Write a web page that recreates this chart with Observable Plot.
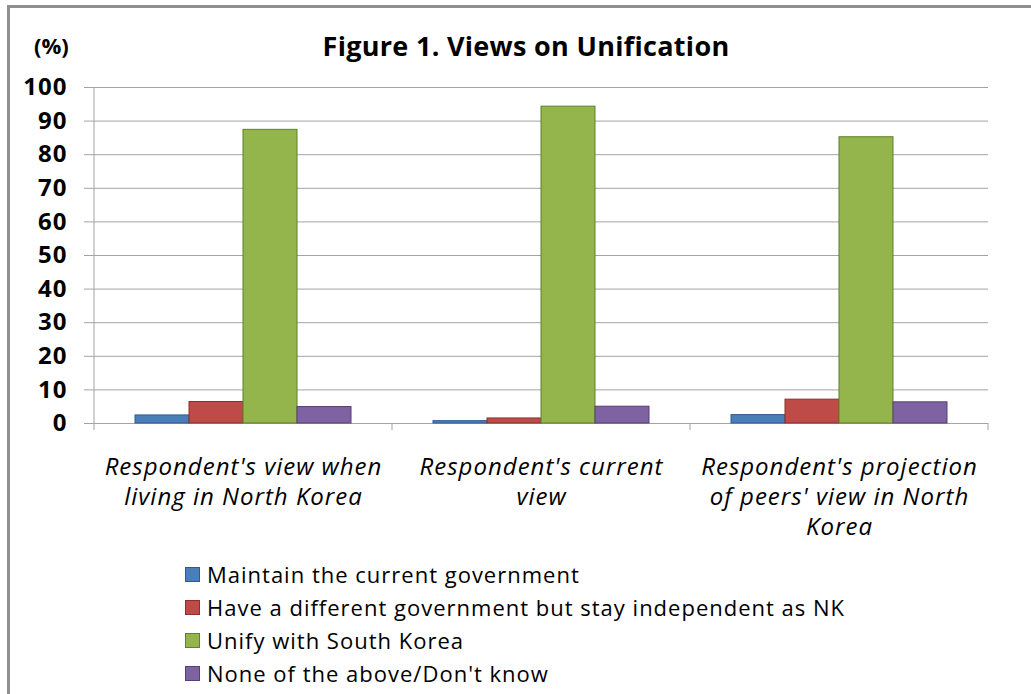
<!DOCTYPE html>
<html>
<head>
<meta charset="utf-8">
<script src="https://cdn.jsdelivr.net/npm/d3@7"></script>
<script src="https://cdn.jsdelivr.net/npm/@observablehq/plot@0.6"></script>
<style>
  html, body { margin: 0; padding: 0; background: #fff; }
  #wrap { position: relative; width: 1031px; height: 694px; overflow: hidden; font-family: "Open Sans", sans-serif; }
  #frame { position: absolute; left: 7px; top: 5px; width: 1040px; height: 700px; border-left: 3px solid #8f8f8f; border-top: 3px solid #8f8f8f; }
  #unit { position: absolute; left: 34px; top: 30px; font-size: 22px; font-weight: bold; color: #000; }
  #title { position: absolute; left: 0; width: 1052px; text-align: center; top: 27px; font-size: 27px; font-weight: bold; letter-spacing: 0.3px; color: #000; }
  #chart { position: absolute; left: 0; top: 70px; }
  #legend { position: absolute; left: 185px; top: 558px; font-size: 22px; letter-spacing: 1px; color: #000; }
  .row { height: 33px; line-height: 33px; display: flex; align-items: center; white-space: nowrap; }
  .sw { width: 15px; height: 15px; margin-right: 7px; box-sizing: border-box; }
</style>
</head>
<body>
<div id="wrap">
  <div id="frame"></div>
  <div id="unit">(%)</div>
  <div id="title">Figure 1. Views on Unification</div>
  <div id="chart"></div>
  <div id="legend"></div>
</div>
<script>
const categories = [
  "Respondent's view when\nliving in North Korea",
  "Respondent's current\nview",
  "Respondent's projection\nof peers' view in North\nKorea"
];
const series = [
  "Maintain the current government",
  "Have a different government but stay independent as NK",
  "Unify with South Korea",
  "None of the above/Don't know"
];
const maintainCurrent = [2.4, 0.7, 2.5];
const differentGov = [6.4, 1.5, 7.1];
const unifySouth = [87.4, 94.3, 85.2];
const noneDontKnow = [4.9, 5.0, 6.3];
const colors = ["#4a7ebb", "#be4b48", "#93b54b", "#7e62a1"];
const strokes = ["#2f5a8f", "#8c2f2d", "#61802c", "#563f78"];
const yTicks = [0, 10, 20, 30, 40, 50, 60, 70, 80, 90, 100];

const seriesValues = [maintainCurrent, differentGov, unifySouth, noneDontKnow];
const data = categories.flatMap((c, i) =>
  series.map((s, j) => ({category: c, series: s, value: seriesValues[j][i]}))
);

const plot = Plot.plot({
  width: 1031,
  height: 480,
  marginLeft: 93,
  marginRight: 42,
  marginTop: 17,
  marginBottom: 127,
  style: {fontFamily: "'Open Sans', sans-serif", background: "transparent", color: "#000"},
  fx: {domain: categories, padding: 0, label: null},
  x: {domain: series, axis: null, paddingInner: 0, paddingOuter: 0.728},
  y: {domain: [0, 100], label: null},
  color: {domain: series, range: colors},
  marks: [
    Plot.gridY(yTicks, {stroke: "#a3a3a3", strokeOpacity: 1}),
    Plot.ruleY([0], {stroke: "#a3a3a3"}),
    Plot.barY(data, {
      fx: "category", x: "series", y: "value",
      fill: "series",
      stroke: d => strokes[series.indexOf(d.series)],
      strokeWidth: 1
    }),
    Plot.axisY(yTicks, {
      tickSize: 10, tickPadding: 17, fontSize: 24, fontWeight: "bold",
      stroke: "#a3a3a3", fill: "#000", label: null
    }),
    Plot.axisFx({
      anchor: "bottom",
      tickSize: 0, tickPadding: 30, fontSize: 24, fontStyle: "italic",
      lineHeight: 1.25, fill: "#000", label: null
    })
  ]
});
document.getElementById("chart").appendChild(plot);
d3.select(plot).selectAll("[aria-label='fx-axis tick label'] text").style("letter-spacing", "1px");
d3.select(plot).selectAll("[aria-label='y-axis tick label'] text").style("letter-spacing", "1px");

// y-axis line and category boundary ticks derived from the plot's scales
const fx = plot.scale("fx");
const ys = plot.scale("y");
const svg = d3.select(plot);
const y0 = ys.apply(0), y100 = ys.apply(100);
const starts = categories.map(c => fx.apply(c));
const bw = fx.bandwidth;
const bounds = [...starts, starts[starts.length - 1] + bw];
svg.append("line")
  .attr("x1", bounds[0]).attr("x2", bounds[0])
  .attr("y1", y100).attr("y2", y0 + 7)
  .attr("stroke", "#a3a3a3");
svg.selectAll("line.bnd").data(bounds.slice(1)).join("line")
  .attr("class", "bnd")
  .attr("x1", d => d).attr("x2", d => d)
  .attr("y1", y0).attr("y2", y0 + 7)
  .attr("stroke", "#a3a3a3");

const legend = document.getElementById("legend");
series.forEach((s, i) => {
  const row = document.createElement("div");
  row.className = "row";
  const sw = document.createElement("span");
  sw.className = "sw";
  sw.style.background = colors[i];
  sw.style.border = "1px solid " + strokes[i];
  const t = document.createElement("span");
  t.textContent = s;
  row.appendChild(sw);
  row.appendChild(t);
  legend.appendChild(row);
});
</script>
</body>
</html>
